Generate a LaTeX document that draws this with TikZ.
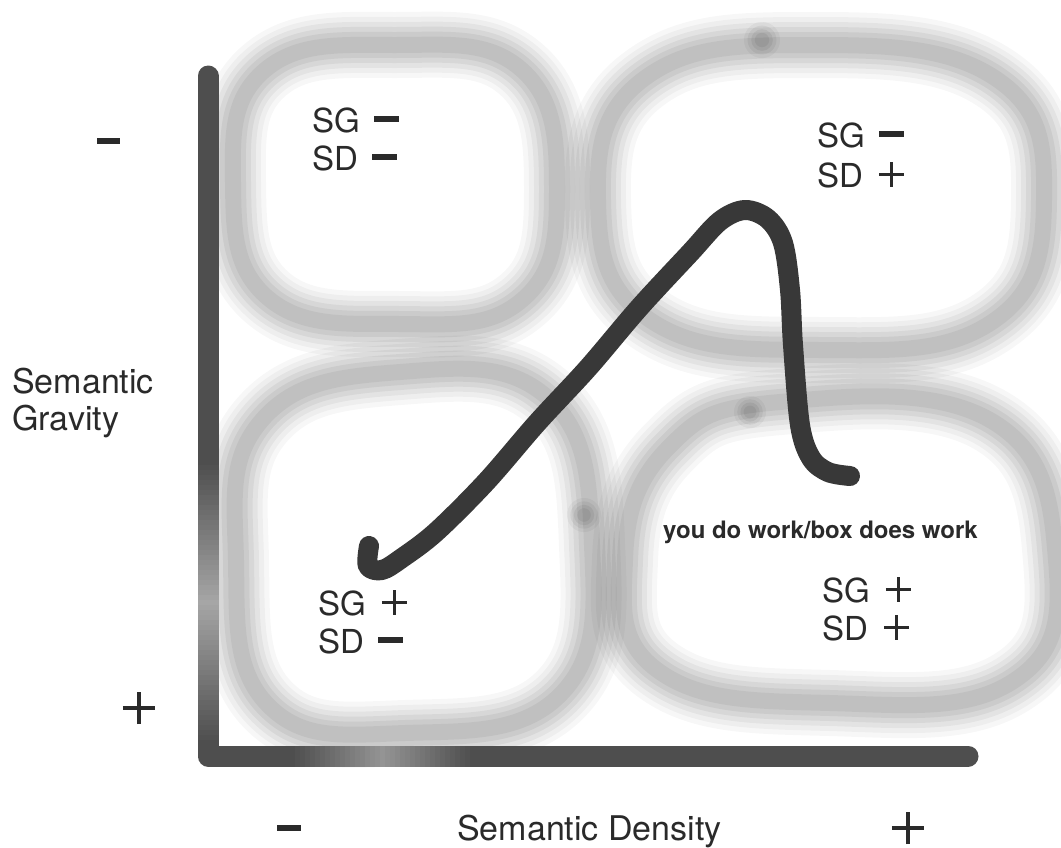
\documentclass[tikz,border=0pt]{standalone}
\usepackage{fontspec}
\setmainfont{TeX Gyre Heros}
\usetikzlibrary{calc}
\definecolor{axisdark}{HTML}{4E4E4E}
\definecolor{curvecol}{HTML}{383838}
\definecolor{textcol}{HTML}{2A2A2A}
\newcommand\minusbar[3]{\rule[#3]{#1}{#2}}
\newcommand\plusglyph[3]{\rlap{\rule[\dimexpr#3+#1/2-#2/2\relax]{#1}{#2}}\hspace{\dimexpr#1/2-#2/2\relax}\rlap{\rule[#3]{#2}{#1}}\hspace{\dimexpr#1/2+#2/2\relax}}
\newcommand\ringblur[1]{%
  \foreach \w/\o in {66/0.03,56/0.035,46/0.045,36/0.05,26/0.055,16/0.05}{
    \draw[line width=\w pt, black, opacity=\o] plot[smooth cycle, tension=0.75] coordinates {#1};
  }}
\newcommand\spotblur[3]{%
  \foreach \r/\o in {1/0.04,0.8/0.05,0.6/0.06,0.4/0.06}{
    \fill[black, opacity=\o] (#1,#2) circle[radius=\r*#3];
  }}
\tikzset{
  lbl/.style={anchor=base west, inner sep=0pt, text=textcol, font=\fontsize{33}{38}\selectfont},
  axlbl/.style={anchor=base west, inner sep=0pt, text=textcol, font=\fontsize{34}{37}\selectfont, align=left},
  note/.style={anchor=base west, inner sep=0pt, text=textcol, font=\fontsize{24}{28}\selectfont\bfseries},
  sign/.style={inner sep=0pt, text=textcol},
  path/.style={line width=20pt, curvecol, line cap=round, line join=round}
}
\newcommand\SGm{\hspace{14pt}\minusbar{25pt}{6.5pt}{10pt}}
\newcommand\SGp{\hspace{16pt}\plusglyph{25pt}{3pt}{0.5pt}}
\begin{document}
\begin{tikzpicture}[x=1pt,y=-1pt]
\useasboundingbox (0,0) rectangle (1061,847);
\fill[white] (0,0) rectangle (1061,847);

% --- blurred rings
\ringblur{(395,45) (522,70) (557,190) (522,300) (400,324) (268,298) (233,182) (265,70)}
\ringblur{(810,45) (995,78) (1044,200) (992,322) (820,350) (650,320) (598,200) (645,78)}
\ringblur{(400,372) (548,398) (592,545) (560,695) (405,733) (268,705) (236,560) (262,420)}
\ringblur{(780,402) (990,420) (1056,560) (1012,682) (830,703) (660,672) (625,560) (668,448)}
\spotblur{762}{40}{18}
\spotblur{750}{412}{16}
\spotblur{584}{515}{17}

% --- axes
\coordinate (axtop) at (208,76);
\coordinate (axorig) at (208,756);
\coordinate (axend) at (968,756);
\draw[line width=21pt, axisdark, line cap=round, line join=round] (axtop) -- (axorig) -- (axend);
\foreach \y in {460,465,...,740}{
  \pgfmathsetmacro\op{max(0,0.5*(1-abs(\y-600)/140))}
  \draw[line width=21pt, white, opacity=\op] (208,\y) -- (208,\y+5);
}
\foreach \x in {290,295,...,470}{
  \pgfmathsetmacro\op{max(0,0.4*(1-abs(\x-380)/90))}
  \draw[line width=21pt, white, opacity=\op] (\x,756) -- (\x+5,756);
}

% --- curve
\coordinate (start) at (369,546);
\coordinate (finish) at (850,476);
\draw[path] plot[smooth, tension=0.55] coordinates {(start) (368,566) (382,570) (402,558) (436,532) (486,482) (537,423) (588,368) (639,308) (690,253) (720,221) (745,210) (768,219) (783,243) (790,290) (793,345) (800,425) (811,458) (828,472) (finish)};

% --- quadrant labels
\node[lbl] (tlsg) at (312,132) {SG\SGm};
\node[lbl] (tlsd) at (312,170) {SD\SGm};
\node[lbl] (trsg) at (817,147) {SG\SGm};
\node[lbl] (trsd) at (817,187) {SD\SGp};
\node[lbl] (blsg) at (318,615) {SG\SGp};
\node[lbl] (blsd) at (318,653) {SD\SGm};
\node[lbl] (brsg) at (822,602) {SG\SGp};
\node[lbl] (brsd) at (822,640) {SD\SGp};
\node[note] (work) at (663,538) {you do work/box does work};

% --- axis labels
\node[axlbl] (grav) at (12,430) {Semantic\\Gravity};
\node[axlbl] (dens) at (457,840) {Semantic Density};
\node[sign] (gminus) at (108.5,141) {\minusbar{23pt}{6.5pt}{0pt}};
\node[sign] (gplus) at (130,708) {\plusglyph{32pt}{3.4pt}{0pt}};
\node[sign] (dminus) at (289,828) {\minusbar{24pt}{6.5pt}{0pt}};
\node[sign] (dplus) at (899,828) {\plusglyph{32pt}{3.4pt}{0pt}};
\end{tikzpicture}
\end{document}
